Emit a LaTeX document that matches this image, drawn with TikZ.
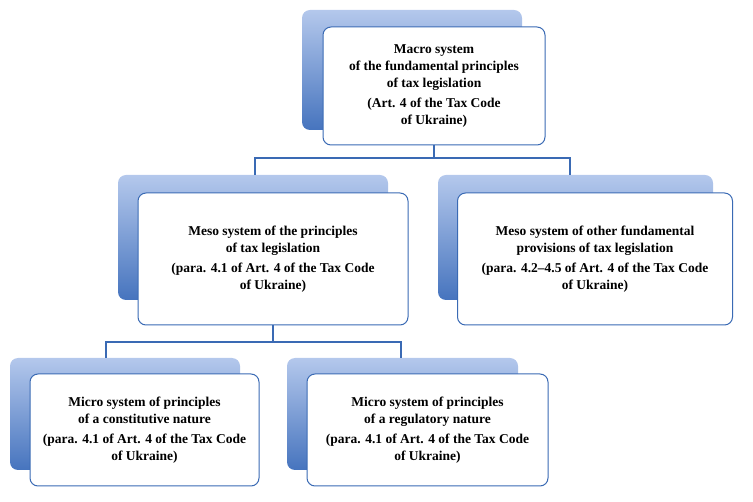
\documentclass[tikz,border=0pt]{standalone}
\usepackage{fontspec}
\setmainfont{Liberation Serif}
\definecolor{bt}{HTML}{B4C8EC}
\definecolor{bb}{HTML}{4674BE}
\definecolor{bd}{HTML}{3A6AB4}
\begin{document}
\begin{tikzpicture}[x=1pt,y=-1pt,
 back/.style={rounded corners=8pt, top color=bt, bottom color=bb, draw=none},
 front/.style={rounded corners=8pt, draw=bd, line width=1pt, fill=white, align=center, font=\bfseries\fontsize{13.5}{17}\selectfont, inner sep=0pt},
 con/.style={draw=bd, line width=1.2pt}]
\useasboundingbox (0,0) rectangle (753,502);
\shade[back] (302,10) rectangle (522,130);
\node[front, minimum width=222pt, minimum height=118pt] (macro) at (434,86) {Macro system\\of the fundamental principles\\of tax legislation\\[3pt](Art. 4 of the Tax Code\\of Ukraine)};
\shade[back] (118,175) rectangle (388,300);
\node[front, minimum width=270pt, minimum height=132pt] (mesoL) at (273,259) {Meso system of the principles\\of tax legislation\\[3pt](para. 4.1 of Art. 4 of the Tax Code\\of Ukraine)};
\shade[back] (438,175) rectangle (713,300);
\node[front, minimum width=275pt, minimum height=132pt] (mesoR) at (595,259) {Meso system of other fundamental\\provisions of tax legislation\\[3pt](para. 4.2--4.5 of Art. 4 of the Tax Code\\of Ukraine)};
\shade[back] (10,358) rectangle (240,470);
\node[front, minimum width=229pt, minimum height=112pt] (microL) at (144.5,430) {Micro system of principles\\of a constitutive nature\\[3pt](para. 4.1 of Art. 4 of the Tax Code\\of Ukraine)};
\shade[back] (287,358) rectangle (518,470);
\node[front, minimum width=241pt, minimum height=112pt] (microR) at (427.5,430) {Micro system of principles\\of a regulatory nature\\[3pt](para. 4.1 of Art. 4 of the Tax Code\\of Ukraine)};
\coordinate (j1) at (434,158);
\coordinate (j2) at (273,342);
\draw[con] (macro.south) -- (j1);
\draw[con] (j1) -| (255,175);
\draw[con] (j1) -| (570,175);
\draw[con] (mesoL.south) -- (j2);
\draw[con] (j2) -| (106,358);
\draw[con] (j2) -| (401,358);
\end{tikzpicture}
\end{document}
